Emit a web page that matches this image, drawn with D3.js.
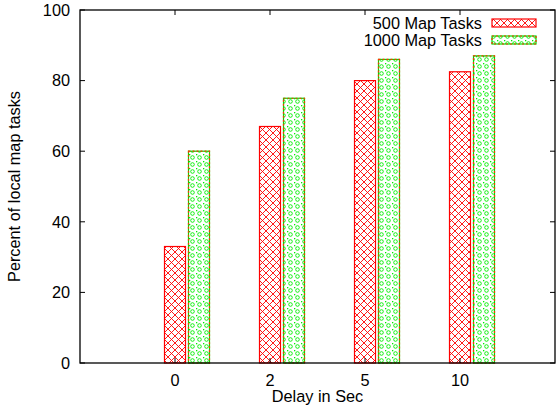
<!DOCTYPE html>
<html>
<head>
<meta charset="utf-8">
<script src="https://cdn.jsdelivr.net/npm/d3@7"></script>
<style>
  body { margin: 0; background: #fff; }
  text { font-family: "Liberation Sans", Arial, sans-serif; fill: #000; }
</style>
</head>
<body>
<script>
  var categories = ["0", "2", "5", "10"];
  var tasks500 = [33, 67, 80, 82.5];
  var tasks1000 = [60, 75, 86, 87];
  var yTicks = [0, 20, 40, 60, 80, 100];
  var seriesNames = ["500 Map Tasks", "1000 Map Tasks"];

  var width = 556, height = 409;
  var plotL = 80, plotR = 555, plotT = 10, plotB = 363;
  var fs = 16.3;

  var svg = d3.select("body").append("svg")
    .attr("width", width)
    .attr("height", height);

  var defs = svg.append("defs");

  // red cross-hatch
  var p1 = defs.append("pattern").attr("id", "hatchRed")
    .attr("patternUnits", "userSpaceOnUse")
    .attr("width", 7).attr("height", 7);
  p1.append("path").attr("d", "M0,0L7,7M7,0L0,7")
    .attr("stroke", "#ff0000").attr("stroke-width", 0.9).attr("fill", "none");

  // green ring/dot pattern
  var p2 = defs.append("pattern").attr("id", "dotGreen")
    .attr("patternUnits", "userSpaceOnUse")
    .attr("width", 7).attr("height", 7);
  p2.append("circle").attr("cx", 3.5).attr("cy", 3.5).attr("r", 1.8)
    .attr("stroke", "#00ee00").attr("stroke-width", 0.9).attr("fill", "none");
  p2.append("rect").attr("x", 0).attr("y", 0).attr("width", 1.3).attr("height", 1.3).attr("fill", "#00ee00");

  var x = d3.scaleLinear().domain([-1, 4]).range([plotL, plotR]);
  var y = d3.scaleLinear().domain([0, 100]).range([plotB, plotT]);

  var barW = 21, offset = 24;

  // 500 map task bars
  svg.selectAll(".b500").data(tasks500).enter().append("rect")
    .attr("class", "b500")
    .attr("x", function(d, i) { return x(i) - barW / 2; })
    .attr("y", function(d) { return y(d); })
    .attr("width", barW)
    .attr("height", function(d) { return y(0) - y(d); })
    .attr("fill", "url(#hatchRed)")
    .attr("stroke", "#ff0000").attr("stroke-width", 1.2);

  // 1000 map task bars
  var g1000 = svg.selectAll(".b1000").data(tasks1000).enter().append("g").attr("class", "b1000");
  g1000.append("rect")
    .attr("x", function(d, i) { return x(i) + offset - barW / 2; })
    .attr("y", function(d) { return y(d); })
    .attr("width", barW)
    .attr("height", function(d) { return y(0) - y(d); })
    .attr("fill", "url(#dotGreen)")
    .attr("stroke", "#00dd00").attr("stroke-width", 1.2);
  g1000.append("rect")
    .attr("x", function(d, i) { return x(i) + offset - barW / 2; })
    .attr("y", function(d) { return y(d); })
    .attr("width", barW)
    .attr("height", function(d) { return y(0) - y(d); })
    .attr("fill", "none")
    .attr("stroke", "#ff3300").attr("stroke-width", 1.2)
    .attr("stroke-dasharray", "2,2");

  // frame
  svg.append("rect")
    .attr("x", plotL).attr("y", plotT)
    .attr("width", plotR - plotL).attr("height", plotB - plotT)
    .attr("fill", "none").attr("stroke", "#000").attr("stroke-width", 1.3);

  // y axis ticks (left and mirrored right)
  svg.selectAll(".yt").data(yTicks).enter().append("path")
    .attr("d", function(d) { return "M" + plotL + "," + y(d) + "h5M" + plotR + "," + y(d) + "h-5"; })
    .attr("stroke", "#000").attr("stroke-width", 1);
  svg.selectAll(".yl").data(yTicks).enter().append("text")
    .attr("x", plotL - 10)
    .attr("y", function(d) { return y(d); })
    .attr("dy", "0.35em")
    .attr("text-anchor", "end")
    .attr("font-size", fs)
    .text(function(d) { return d; });

  // x axis ticks (mirrored on top) and labels
  svg.selectAll(".xt").data(categories).enter().append("path")
    .attr("d", function(d, i) { return "M" + x(i) + "," + plotT + "v5M" + x(i) + "," + plotB + "v-5"; })
    .attr("stroke", "#000").attr("stroke-width", 1);
  svg.selectAll(".xl").data(categories).enter().append("text")
    .attr("x", function(d, i) { return x(i); })
    .attr("y", plotB + 23)
    .attr("text-anchor", "middle")
    .attr("font-size", fs)
    .text(function(d) { return d; });

  // axis titles
  svg.append("text")
    .attr("x", (plotL + plotR) / 2).attr("y", 402)
    .attr("text-anchor", "middle").attr("font-size", fs)
    .text("Delay in Sec");
  svg.append("text")
    .attr("transform", "translate(20," + ((plotT + plotB) / 2) + ") rotate(-90)")
    .attr("text-anchor", "middle").attr("font-size", fs)
    .text("Percent of local map tasks");

  // legend
  var legend = svg.selectAll(".lg").data(seriesNames).enter().append("g")
    .attr("transform", function(d, i) { return "translate(0," + (23 + i * 17) + ")"; });
  legend.append("text")
    .attr("x", 482).attr("dy", "0.35em")
    .attr("text-anchor", "end").attr("font-size", fs)
    .text(function(d) { return d; });
  legend.append("rect")
    .attr("x", 492).attr("y", -4).attr("width", 44).attr("height", 8)
    .attr("fill", function(d, i) { return i === 0 ? "url(#hatchRed)" : "url(#dotGreen)"; })
    .attr("stroke", function(d, i) { return i === 0 ? "#ff0000" : "#00dd00"; })
    .attr("stroke-width", 1.2);
  legend.filter(function(d, i) { return i === 1; }).append("rect")
    .attr("x", 492).attr("y", -4).attr("width", 44).attr("height", 8)
    .attr("fill", "none").attr("stroke", "#ff3300").attr("stroke-width", 1.2)
    .attr("stroke-dasharray", "2,2");
</script>
</body>
</html>
